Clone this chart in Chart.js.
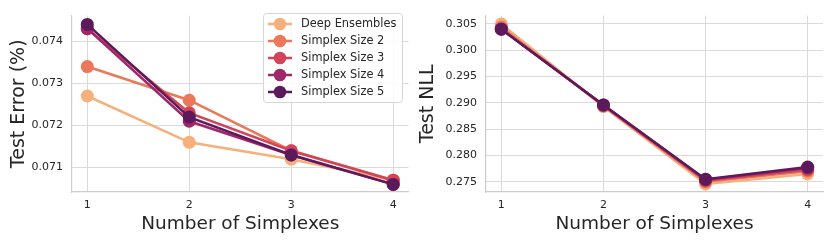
<!DOCTYPE html>
<html>
<head>
<meta charset="utf-8">
<script src="https://cdn.jsdelivr.net/npm/chart.js@4/dist/chart.umd.min.js"></script>
<style>
  html, body { margin: 0; padding: 0; background: #fff; }
  .row { display: flex; width: 831px; height: 243px; }
  canvas { display: block; }
</style>
</head>
<body>
<div class="row">
  <canvas id="errChart" width="415" height="243"></canvas>
  <canvas id="nllChart" width="416" height="243"></canvas>
</div>
<script>
// number of simplexes (x axis)
const simplexCounts = [1, 2, 3, 4];
const seriesNames = ['Deep Ensembles', 'Simplex Size 2', 'Simplex Size 3', 'Simplex Size 4', 'Simplex Size 5'];
const seriesColors = ['#f5b07b', '#ea7859', '#d2445a', '#a1276b', '#5d1a5b'];

// test error
const errDeepEns = [0.0727, 0.0716, 0.0712, 0.0707];
const errSize2 = [0.0734, 0.0726, 0.0714, 0.0707];
const errSize3 = [0.0743, 0.0723, 0.0714, 0.0707];
const errSize4 = [0.0743, 0.0721, 0.0713, 0.0706];
const errSize5 = [0.0744, 0.0722, 0.0713, 0.0706];
const errTicks = [0.071, 0.072, 0.073, 0.074];

// test NLL
const nllDeepEns = [0.3050, 0.2893, 0.2746, 0.2765];
const nllSize2 = [0.3044, 0.2894, 0.2750, 0.2770];
const nllSize3 = [0.3041, 0.2895, 0.2752, 0.2773];
const nllSize4 = [0.3040, 0.2896, 0.2754, 0.2776];
const nllSize5 = [0.3040, 0.2896, 0.2755, 0.2778];
const nllTicks = [0.275, 0.280, 0.285, 0.290, 0.295, 0.300, 0.305];

const FONT = 'DejaVu Sans';
const TEXT = '#262626';

function makeDatasets(seriesList) {
  return seriesList.map((vals, i) => ({
    label: seriesNames[i],
    data: vals.map((v, j) => ({ x: simplexCounts[j], y: v })),
    borderColor: seriesColors[i],
    backgroundColor: seriesColors[i],
    borderWidth: 2.5,
    pointRadius: 6.5,
    pointBorderWidth: 0,
    pointHoverRadius: 6.5,
    order: seriesList.length - 1 - i, // last series on top
  }));
}

// legend box inside the plot, like matplotlib
const boxLegend = {
  id: 'boxLegend',
  afterDraw(chart) {
    if (!chart.options.plugins.boxLegend || !chart.options.plugins.boxLegend.show) return;
    const ctx = chart.ctx;
    ctx.save();
    ctx.beginPath();
    ctx.roundRect(263.5, 13.5, 139, 89, 3);
    ctx.fillStyle = 'rgba(255,255,255,0.85)';
    ctx.fill();
    ctx.strokeStyle = '#d6d6d6';
    ctx.lineWidth = 1;
    ctx.stroke();
    chart.data.datasets.forEach((ds, i) => {
      const y = 24 + i * 17;
      ctx.strokeStyle = ds.borderColor;
      ctx.lineWidth = 2.5;
      ctx.beginPath();
      ctx.moveTo(268, y);
      ctx.lineTo(292, y);
      ctx.stroke();
      ctx.fillStyle = ds.borderColor;
      ctx.beginPath();
      ctx.arc(280, y, 6.3, 0, Math.PI * 2);
      ctx.fill();
      ctx.fillStyle = TEXT;
      ctx.font = `11.4px "${FONT}"`;
      ctx.textBaseline = 'middle';
      ctx.fillText(ds.label, 301, y + 0.5);
    });
    ctx.restore();
  },
};

function buildChart(canvasId, datasets, yMin, yMax, yTicks, yTitle, yAxisWidth, yTitlePad, rightPad, showLegend) {
  return new Chart(document.getElementById(canvasId), {
    type: 'line',
    data: { datasets },
    options: {
      responsive: false,
      animation: false,
      devicePixelRatio: 1,
      layout: { padding: { top: 7, right: rightPad, bottom: 0, left: 0 } },
      plugins: {
        legend: { display: false },
        tooltip: { enabled: false },
        boxLegend: { show: showLegend },
      },
      scales: {
        x: {
          type: 'linear',
          min: 0.85,
          max: 4.15,
          afterBuildTicks: (axis) => { axis.ticks = simplexCounts.map((v) => ({ value: v })); },
          afterFit: (axis) => { axis.height = 51; },
          ticks: {
            color: TEXT,
            font: { family: FONT, size: 11 },
            padding: 7,
            callback: (v) => String(v),
          },
          grid: { color: '#dadada', lineWidth: 1, drawTicks: false },
          border: { display: true, color: '#cccccc', width: 1.2 },
          title: {
            display: true,
            text: 'Number of Simplexes',
            color: TEXT,
            font: { family: FONT, size: 18.5 },
            padding: { top: 0, bottom: 8 },
          },
        },
        y: {
          type: 'linear',
          min: yMin,
          max: yMax,
          afterBuildTicks: (axis) => { axis.ticks = yTicks.map((v) => ({ value: v })); },
          afterFit: (axis) => { axis.width = yAxisWidth; },
          ticks: {
            color: TEXT,
            font: { family: FONT, size: 11 },
            padding: 9,
            callback: (v) => v.toFixed(3),
          },
          grid: { color: '#dadada', lineWidth: 1, drawTicks: false },
          border: { display: true, color: '#cccccc', width: 1.2 },
          title: {
            display: true,
            text: yTitle,
            color: TEXT,
            font: { family: FONT, size: 19 },
            padding: { top: yTitlePad, bottom: 0 },
          },
        },
      },
    },
    plugins: [boxLegend],
  });
}

buildChart('errChart',
  makeDatasets([errDeepEns, errSize2, errSize3, errSize4, errSize5]),
  0.07042, 0.07461, errTicks, 'Test Error (%)', 72, 8, 6, true);

buildChart('nllChart',
  makeDatasets([nllDeepEns, nllSize2, nllSize3, nllSize4, nllSize5]),
  0.27306, 0.30658, nllTicks, 'Test NLL', 71, 2, 8, false);
</script>
</body>
</html>
